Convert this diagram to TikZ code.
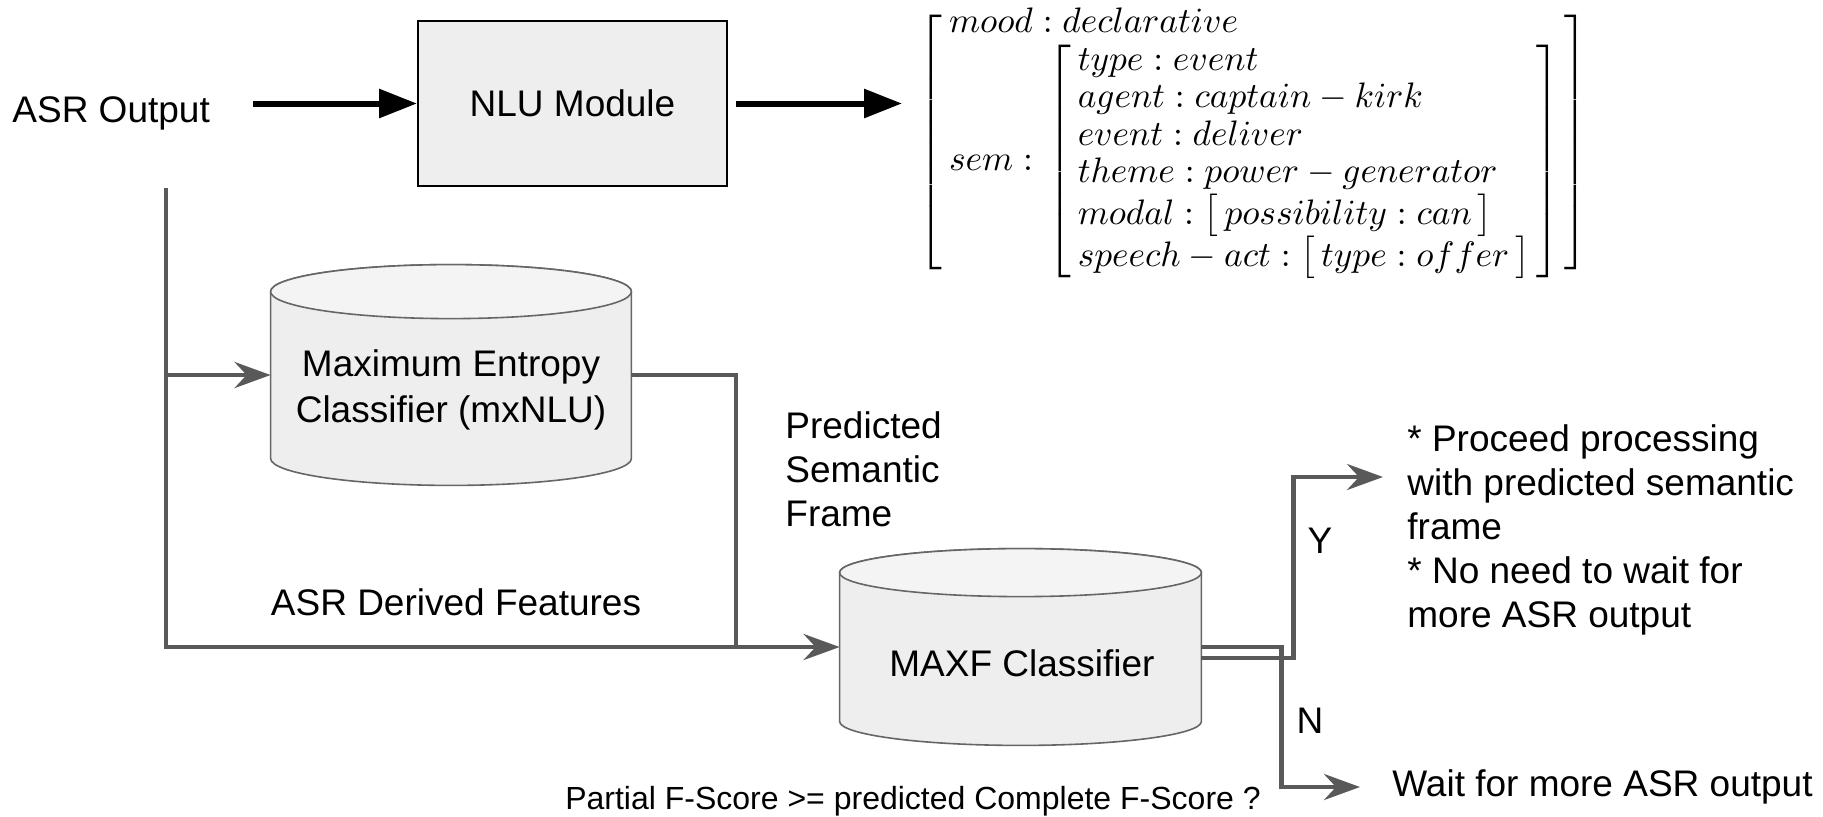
\documentclass[tikz,border=0pt]{standalone}
\usepackage[no-math]{fontspec}
\usepackage{graphicx}
\newfontfamily\arialfont{Liberation Sans}
\usetikzlibrary{arrows.meta,calc}

\definecolor{wire}{HTML}{595959}
\definecolor{drumedge}{HTML}{666666}
\definecolor{drumfill}{HTML}{EEEEEE}
\definecolor{drumtop}{HTML}{F4F4F4}
\definecolor{boxfill}{HTML}{EEEEEE}

\tikzset{
  lbl/.style={font=\arialfont\fontsize{18.5}{22}\selectfont, inner sep=0pt, text=black},
  smalllbl/.style={font=\arialfont\fontsize{16}{19}\selectfont, inner sep=0pt, text=black},
  nlubox/.style={draw=black, line width=1pt, fill=boxfill, minimum width=154.5pt,
    minimum height=82.5pt, inner sep=0pt, font=\arialfont\fontsize{18.5}{22}\selectfont},
  drumbox/.style={inner sep=0pt},
  drumline/.style={draw=drumedge, line width=0.8pt},
  wireline/.style={draw=wire, line width=2.25pt},
  wirearrow/.style={wireline, -{Stealth[length=18pt,width=13pt,inset=6pt]}},
  bigarrow/.style={draw=black, line width=3pt, -{Triangle[length=19pt,width=14pt]}},
}

% cylinder drawn around the box of a named node; #2 = half height of the end ellipses
\newcommand\drumdraw[2]{%
  \path[fill=drumfill, drumline] let \p1=(#1.north west), \p2=(#1.south east),
      \n1={(\x2-\x1)/2} in
    (\x1,\y1-#2) -- (\x1,\y2+#2)
    arc[start angle=180, end angle=360, x radius=\n1, y radius=#2]
    -- (\x2,\y1-#2)
    arc[start angle=0, end angle=180, x radius=\n1, y radius=#2] -- cycle;
  \path[fill=drumtop, drumline] let \p1=(#1.north west), \p2=(#1.south east),
      \n1={(\x2-\x1)/2} in
    (\x1+\n1,\y1-#2) ellipse[x radius=\n1, y radius=#2];
}

% a one-entry bracketed feature value
\newcommand\fval[1]{\bigl[\,#1\,\bigr]}

\begin{document}
\begin{tikzpicture}[x=0.5pt, y=-0.5pt]
\useasboundingbox (0,0) rectangle (1823,816);
\fill[white] (0,0) rectangle (1823,816);

% NLU path
\node[lbl, anchor=west] (asr) at (12,113) {ASR Output};
\node[nlubox] (nlu) at (572.5,103.5) {NLU Module};
\node[anchor=north west, inner sep=0pt] (avm) at (918,6) {\scalebox{1.77}{\fontsize{10}{10.6}\selectfont
  \arraycolsep=2pt
  $\left[\begin{array}{ll}
    \multicolumn{2}{l}{mood : declarative}\\
    sem : & \left[\begin{array}{l}
      type : event\\
      agent : captain - kirk\\
      event : deliver\\
      theme : power - generator\\
      modal : \fval{possibility : can}\\
      speech - act : \fval{type : offer}
    \end{array}\right]\hspace{-1pt}
  \end{array}\right]$}};

\draw[bigarrow, shorten <=21.5pt] (asr.east |- nlu.west) -- (nlu.west);
\draw[bigarrow, shorten <=4pt, shorten >=8pt] (nlu.east) -- (avm.west |- nlu.east);

% classifiers
\node[drumbox, minimum width=180pt, minimum height=110pt] (mec) at (451,375) {};
\drumdraw{mec}{13.5pt}
\node[lbl, align=center, font=\arialfont\fontsize{18.5}{23}\selectfont] (mectxt) at (451,390)
  {Maximum Entropy\\Classifier (mxNLU)};

\node[drumbox, minimum width=180.5pt, minimum height=98pt] (mx) at (1020.5,647) {};
\drumdraw{mx}{12pt}
\node[lbl] (mxtxt) at (1022,663) {MAXF Classifier};

% wiring into the classifiers
\coordinate (drop) at (166,188);
\coordinate (merge) at (736,647);
\draw[wirearrow] (drop) |- (mx.west);
\draw[wirearrow] (drop |- mec.west) -- (mec.west);
\draw[wireline] (mec.east) -| (merge);

% labels
\node[lbl, anchor=west, align=left] (pred) at (785,469) {Predicted\\Semantic\\Frame};
\node[lbl] (feat) at (456,602) {ASR Derived Features};
\node[lbl, anchor=west, align=left] (proceed) at (1407,530)
  {* Proceed processing\\with predicted semantic\\frame\\* No need to wait for\\more ASR output};
\node[lbl, anchor=west] (wait) at (1392,787) {Wait for more ASR output};
\node[lbl] (ylab) at (1320,541) {Y};
\node[lbl] (nlab) at (1310,721) {N};
\node[smalllbl] (cond) at (913,801) {Partial F-Score >= predicted Complete F-Score ?};

% decision outputs
\coordinate (ytip) at (1383,477);
\draw[wirearrow, shorten >=16pt] (mx.east) -- ++(80,0) |- (wait.west);
\draw[wirearrow] ([yshift=-5.5pt]mx.east) -- ++(92,0) |- (ytip);
\end{tikzpicture}
\end{document}
